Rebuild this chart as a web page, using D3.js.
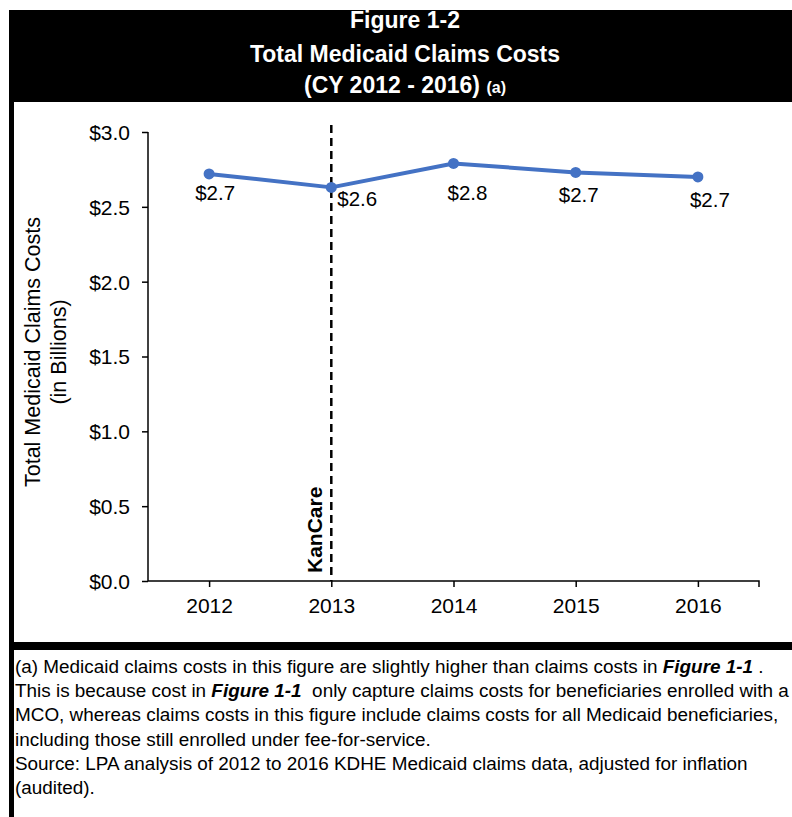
<!DOCTYPE html>
<html>
<head>
<meta charset="utf-8">
<script src="https://cdn.jsdelivr.net/npm/d3@7"></script>
<style>
  html, body { margin: 0; padding: 0; background: #fff; }
  svg { display: block; font-family: "Liberation Sans", Arial, sans-serif; }
</style>
</head>
<body>
<svg id="chart" width="792" height="817"></svg>
<script>
// ---- data ----
const years = ["2012", "2013", "2014", "2015", "2016"];
const costs = [2.72, 2.63, 2.79, 2.73, 2.70];
const costLabels = ["$2.7", "$2.6", "$2.8", "$2.7", "$2.7"];
const yTicks = [0, 0.5, 1.0, 1.5, 2.0, 2.5, 3.0];
const titleLines = ["Figure 1-2", "Total Medicaid Claims Costs", "(CY 2012 - 2016)"];
const titleNote = "(a)";
const yTitleLines = ["Total Medicaid Claims Costs", "(in Billions)"];
const markerYear = "2013";
const markerLabel = "KanCare";
const footnoteLines = [
  [["(a) Medicaid claims costs in this figure are slightly higher than claims costs in ", false], ["Figure 1-1", true], [" .", false]],
  [["This is because cost in ", false], ["Figure 1-1", true], ["  only capture claims costs for beneficiaries enrolled with a", false]],
  [["MCO, whereas claims costs in this figure include claims costs for all Medicaid beneficiaries,", false]],
  [["including those still enrolled under fee-for-service.", false]],
  [["Source: LPA analysis of 2012 to 2016 KDHE Medicaid claims data, adjusted for inflation", false]],
  [["(audited).", false]]
];

// ---- layout (not data) ----
const labelNudges = [[6, 26], [6, 19], [14, 37], [3, 30], [12, 30]]; // dx, dy from point
const labelAnchors = ["middle", "start", "middle", "middle", "middle"];

const svg = d3.select("#chart");

// Frame
svg.append("rect").attr("x", 9).attr("y", 10).attr("width", 783).attr("height", 92).attr("fill", "#000");
svg.append("rect").attr("x", 9).attr("y", 10).attr("width", 5).attr("height", 807).attr("fill", "#000");
svg.append("rect").attr("x", 9).attr("y", 642).attr("width", 783).attr("height", 8).attr("fill", "#000");

// Title
const title = svg.append("g").attr("fill", "#fff").attr("font-weight", "bold").attr("text-anchor", "middle");
title.append("text").attr("x", 405).attr("y", 28).attr("font-size", 23).text(titleLines[0]);
title.append("text").attr("x", 405).attr("y", 62).attr("font-size", 23).text(titleLines[1]);
const t3 = title.append("text").attr("x", 405).attr("y", 93).attr("font-size", 23);
t3.append("tspan").text(titleLines[2] + " ");
t3.append("tspan").attr("font-size", 16).text(titleNote);

// Scales
const x = d3.scalePoint().domain(years).range([148, 759]).padding(0.5);
const y = d3.scaleLinear().domain([0, 3]).range([581, 132]);

// Axes
const yAxis = svg.append("g").attr("transform", "translate(148,0)")
  .call(d3.axisLeft(y).tickValues(yTicks).tickSize(6).tickPadding(12).tickFormat(d => "$" + d3.format(".1f")(d)));
const xAxis = svg.append("g").attr("transform", "translate(0,581)")
  .call(d3.axisBottom(x).tickSize(6).tickPadding(11).tickSizeOuter(6));
[yAxis, xAxis].forEach(a => {
  a.selectAll("path,line").attr("stroke", "#000").attr("stroke-width", 1.5);
  a.selectAll("text").attr("font-size", 21).attr("fill", "#000").attr("font-family", "Liberation Sans, Arial, sans-serif");
});
yAxis.select(".domain").attr("d", "M0,581V132");
yAxis.selectAll("text").attr("dy", "0.35em");
xAxis.select(".domain").attr("d", "M148,0H759V6");

// KanCare marker line
svg.append("line")
  .attr("x1", x(markerYear)).attr("x2", x(markerYear))
  .attr("y1", y(3) - 7).attr("y2", y(0))
  .attr("stroke", "#000").attr("stroke-width", 2.5).attr("stroke-dasharray", "8,5");
svg.append("text")
  .attr("transform", `translate(${x(markerYear) - 9},${y(0) - 8}) rotate(-90)`)
  .attr("font-size", 21).attr("font-weight", "bold").attr("text-anchor", "start")
  .text(markerLabel);

// Y-axis title
yTitleLines.forEach((l, i) => {
  svg.append("text")
    .attr("transform", `translate(${40 + i * 26},352) rotate(-90)`)
    .attr("text-anchor", "middle").attr("font-size", 21.5).text(l);
});

// Series
const pts = years.map((yr, i) => ({ yr, v: costs[i], label: costLabels[i], i }));
svg.append("path").datum(pts)
  .attr("d", d3.line().x(d => x(d.yr)).y(d => y(d.v)))
  .attr("fill", "none").attr("stroke", "#4472C4").attr("stroke-width", 4).attr("stroke-linejoin", "round");
svg.selectAll("circle.pt").data(pts).enter().append("circle")
  .attr("class", "pt").attr("cx", d => x(d.yr)).attr("cy", d => y(d.v)).attr("r", 5.5).attr("fill", "#4472C4");
svg.selectAll("text.lbl").data(pts).enter().append("text")
  .attr("class", "lbl")
  .attr("x", d => x(d.yr) + labelNudges[d.i][0])
  .attr("y", d => y(d.v) + labelNudges[d.i][1])
  .attr("text-anchor", d => labelAnchors[d.i])
  .attr("font-size", 20.5).text(d => d.label);

// Footnote
footnoteLines.forEach((segs, i) => {
  const t = svg.append("text").attr("x", 15).attr("y", 673 + i * 24.2).attr("font-size", 18.9)
    .attr("style", "white-space: pre");
  segs.forEach(([s, b]) => {
    const ts = t.append("tspan").text(s);
    if (b) ts.attr("font-weight", "bold").attr("font-style", "italic");
  });
});
</script>
</body>
</html>
